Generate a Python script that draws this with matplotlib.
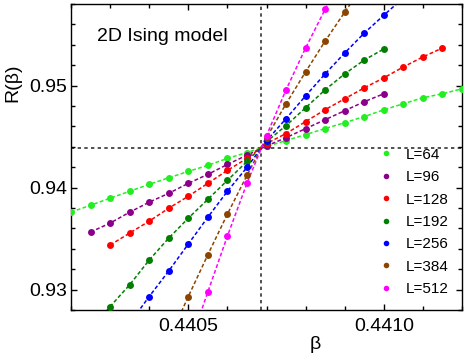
import numpy as np
import matplotlib
matplotlib.use("Agg")
from matplotlib import pyplot as plt
from matplotlib.lines import Line2D
from matplotlib.ticker import MultipleLocator, FormatStrFormatter

plt.rcParams['font.family'] = ['Liberation Sans', 'DejaVu Sans']

# beta grid: 0.4402 + k*0.00005
beta_start = 0.4402
beta_step = 0.00005

sizes = ["L=64", "L=96", "L=128", "L=192", "L=256", "L=384", "L=512"]
colors = ["#22ee22", "#8b008b", "#ff0000", "#007f00", "#0000ff", "#8b4500", "#ff00ff"]
first_k = [0, 1, 2, 1, 3, 5, 6]

# first/last values of the steep series lie just outside the plotted window
R_64 = [0.93759, 0.93827, 0.93896, 0.93964, 0.94032, 0.94096, 0.94159, 0.94218, 0.94286, 0.94344,
        0.94403, 0.94461, 0.94520, 0.94579, 0.94637, 0.94696, 0.94763, 0.94822, 0.94881, 0.94920, 0.94969]
R_96 = [0.93564, 0.93652, 0.93759, 0.93857, 0.93944, 0.94042, 0.94130, 0.94227, 0.94318,
        0.94408, 0.94490, 0.94578, 0.94666, 0.94754, 0.94842, 0.94920]
R_128 = [0.93437, 0.93554, 0.93671, 0.93798, 0.93915, 0.94042, 0.94169, 0.94286, 0.94432,
         0.94530, 0.94647, 0.94764, 0.94871, 0.94978, 0.95076, 0.95183, 0.95281, 0.95369]
R_192 = [0.92600, 0.92834, 0.93047, 0.93290, 0.93505, 0.93700, 0.93885, 0.94071, 0.94256, 0.94450,
         0.94608, 0.94783, 0.94959, 0.95115, 0.95251, 0.95359]
R_256 = [0.92670, 0.92932, 0.93183, 0.93447, 0.93710, 0.93964, 0.94198, 0.94460, 0.94676, 0.94900,
         0.95115, 0.95320, 0.95515, 0.95690, 0.95860]
R_384 = [0.92510, 0.92932, 0.93342, 0.93740, 0.94120, 0.94490, 0.94822, 0.95135, 0.95437, 0.95720,
         0.96000]
R_512 = [0.92420, 0.92978, 0.93525, 0.94042, 0.94510, 0.94959, 0.95369, 0.95749, 0.96110]
all_R = [R_64, R_96, R_128, R_192, R_256, R_384, R_512]

beta_c = 0.4406868
R_cross = 0.94393

fig = plt.figure(figsize=(4.69, 3.58), dpi=100)
ax = fig.add_axes([0.1514, 0.1341, 0.8337, 0.8547])

for lab, col, k0, R in zip(sizes, colors, first_k, all_R):
    b = beta_start + beta_step * (k0 + np.arange(len(R)))
    ax.plot(b, R, ls=(0, (2.5, 1.5)), color=col, lw=1.1, zorder=2)
    ax.plot(b, R, 'o', color=col, ms=5, mec='none', zorder=3)

ax.axvline(beta_c, color='#333333', ls=(0, (2, 2)), lw=1.2, zorder=1)
ax.axhline(R_cross, color='#333333', ls=(0, (2, 2)), lw=1.2, zorder=1)

ax.set_xlim(0.4402, 0.4412)
ax.set_ylim(0.928, 0.958)
ax.xaxis.set_major_locator(MultipleLocator(0.0005))
ax.xaxis.set_minor_locator(MultipleLocator(0.0001))
ax.yaxis.set_major_locator(MultipleLocator(0.01))
ax.yaxis.set_minor_locator(MultipleLocator(0.002))
ax.xaxis.set_major_formatter(FormatStrFormatter('%.4f'))
ax.yaxis.set_major_formatter(FormatStrFormatter('%.2f'))
ax.tick_params(which='both', direction='in', top=True, right=True, labelsize=14, width=1)
ax.tick_params(which='major', length=4.5)
ax.tick_params(which='minor', length=3)
ax.tick_params(axis='x', pad=6)
ax.tick_params(axis='y', pad=3)
for s in ax.spines.values():
    s.set_linewidth(1.0)

ax.set_xlabel("β", fontsize=14)
ax.set_ylabel("R(β)", fontsize=14)
ax.xaxis.set_label_coords(0.624, -0.085)
ax.yaxis.set_label_coords(-0.128, 0.742)

ax.text(0.066, 0.895, "2D Ising model", transform=ax.transAxes, fontsize=14, va='center', ha='left')

handles = [Line2D([], [], ls='none', marker='o', ms=4, mec='none', color=c) for c in colors]
ax.legend(handles, sizes, loc='upper left', bbox_to_anchor=(0.77, 0.55), frameon=False,
          fontsize=11, handlelength=1.0, handletextpad=0.8, labelspacing=0.55, borderaxespad=0)

fig.savefig("out.png", dpi=100)
